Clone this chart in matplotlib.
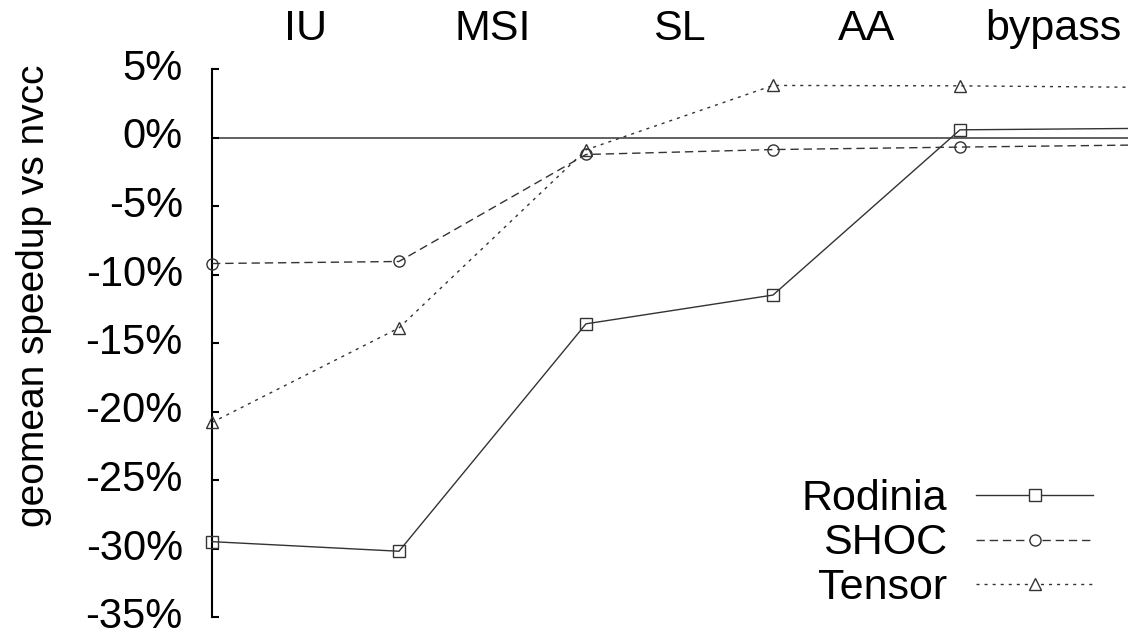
import matplotlib
matplotlib.use("Agg")
import matplotlib.pyplot as plt
from matplotlib.lines import Line2D

plt.rcParams['font.family'] = ['Liberation Sans', 'DejaVu Sans']

# optimisation stages (labels sit between consecutive points)
stages = ["IU", "MSI", "SL", "AA", "bypass"]
# geomean speedup (%) after each step; last point lies past the right edge
rodinia = [-29.5, -30.2, -13.6, -11.5, 0.56, 0.67]
shoc = [-9.2, -9.05, -1.24, -0.88, -0.70, -0.54]
tensor = [-20.8, -13.9, -0.9, 3.8, 3.77, 3.66]
yticks = [5, 0, -5, -10, -15, -20, -25, -30, -35]

W, H = 1128, 636
fig = plt.figure(figsize=(W / 100, H / 100), dpi=100)
x0, xstep = 212, 187
ytop, ybot = 69, 617
ax = fig.add_axes([x0 / W, (H - ybot) / H, (W - x0) / W, (ybot - ytop) / H])

xs = list(range(len(rodinia)))
col = "#333333"
ax.axhline(0, color="#555555", lw=1.3, zorder=1)
ax.plot(xs, rodinia, color=col, lw=1.0, ls="-", marker="s", ms=8,
        mfc="none", mec=col, mew=1.0, clip_on=False, zorder=3)
ax.plot(xs, shoc, color=col, lw=1.0, dashes=(6, 3.5), marker="o", ms=8,
        mfc="none", mec=col, mew=1.0, clip_on=False, zorder=3)
ax.plot(xs, tensor, color=col, lw=1.0, dashes=(2.2, 3.6), marker="^", ms=8,
        mfc="none", mec=col, mew=1.0, clip_on=False, zorder=3)

ax.set_xlim(0, (W - x0) / xstep)
ax.set_ylim(-35, 5)
for s in ["top", "right", "bottom"]:
    ax.spines[s].set_visible(False)
ax.spines["left"].set_linewidth(1.5)
ax.set_xticks([])
ax.set_yticks(yticks)
ax.set_yticklabels([f"{v}%" for v in yticks])
ax.tick_params(axis="y", direction="in", length=5, width=1.5,
               pad=21, labelsize=30)
for t in ax.get_yticklabels():
    t.set_va("center")

# stage names along the top, between points
for i, name in enumerate(stages):
    ax.text(i + 0.5, 1 + (ytop - 40) / (ybot - ytop), name,
            transform=ax.get_xaxis_transform(), ha="center", va="baseline",
            fontsize=31)

fig.text(34 / W, 1 - 296 / H, "geomean speedup vs nvcc", rotation=90,
         ha="center", va="center", fontsize=28)

# legend, gnuplot style: label right-aligned, sample line to the right
entries = [("Rodinia", {"ls": "-"}, "s"),
           ("SHOC", {"dashes": (6, 3.5)}, "o"),
           ("Tensor", {"dashes": (2.2, 3.6)}, "^")]
for k, (lab, style, mk) in enumerate(entries):
    yl = 495 + 44.5 * k
    fig.text(947 / W, 1 - (yl + 15) / H, lab, ha="right", va="baseline",
             fontsize=31)
    fig.add_artist(Line2D([976 / W, 1093 / W], [1 - yl / H, 1 - yl / H],
                          transform=fig.transFigure, color=col, lw=1.0,
                          **style))
    fig.add_artist(Line2D([1035 / W], [1 - yl / H], transform=fig.transFigure,
                          ls="none", marker=mk, ms=8, mfc="white", mec=col,
                          mew=1.0))

fig.savefig("out.png", dpi=100)
